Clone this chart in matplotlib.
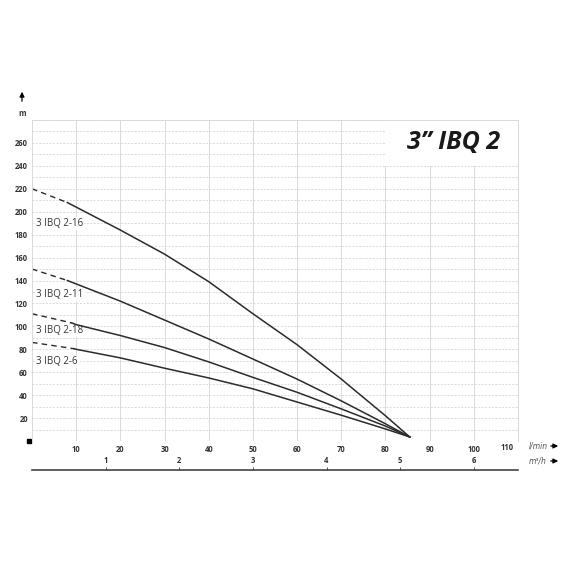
import matplotlib.pyplot as plt
import matplotlib.patches as mpatches
import numpy as np

plt.rcParams['font.family'] = ['Open Sans', 'DejaVu Sans']

# pump curves: flow (l/min) vs head (m); first segment is the dashed start
flow_216 = [0, 8, 10, 20, 30, 40, 50, 60, 70, 80, 85.5]
head_216 = [220, 208, 204, 184, 163, 139, 111, 84, 54, 22, 3.5]

flow_211 = [0, 8, 10, 20, 30, 40, 50, 60, 70, 80, 85.5]
head_211 = [150, 140, 137, 122, 105.5, 89, 71.5, 54, 35, 15, 3.5]

flow_218 = [0, 9, 10, 20, 30, 40, 50, 60, 70, 80, 85.5]
head_218 = [111, 103, 101.5, 92, 81.5, 69, 55.5, 42.5, 28, 13, 3.5]

flow_26 = [0, 9.5, 10, 20, 30, 40, 50, 60, 70, 80, 85.5]
head_26 = [86, 80.5, 80, 72.5, 63.5, 55, 45.5, 34, 22.5, 10.5, 3.5]

curves = [
    ('3 IBQ 2-16', flow_216, head_216, 190),
    ('3 IBQ 2-11', flow_211, head_211, 128),
    ('3 IBQ 2-18', flow_218, head_218, 96),
    ('3 IBQ 2-6', flow_26, head_26, 69.5),
]

x_ticks = [10, 20, 30, 40, 50, 60, 70, 80, 90, 100]
y_ticks = [20, 40, 60, 80, 100, 120, 140, 160, 180, 200, 220, 240, 260]
m3h_ticks = [1, 2, 3, 4, 5, 6]

W, H = 570, 570
fig = plt.figure(figsize=(W / 100, H / 100), dpi=100)
L, R, B, T = 32, 518, 441, 120
ax = fig.add_axes([L / W, 1 - B / H, (R - L) / W, (B - T) / H])
ax.set_xlim(0, 110)
ax.set_ylim(0, 280)

grid_c = '#dadada'
for x in range(10, 110, 10):
    ax.axvline(x, color=grid_c, lw=0.7, zorder=0.5)
for y in range(10, 290, 10):
    ax.axhline(y, color=grid_c, lw=0.7, ls=(0, (2, 1.5)), zorder=0.5)
ax.axhline(0, color=grid_c, lw=0.7, ls=(0, (1.5, 1.5)), zorder=0.5)
for s in ['left', 'top', 'right']:
    ax.spines[s].set_color(grid_c)
    ax.spines[s].set_linewidth(0.7)
ax.spines['bottom'].set_visible(False)

ax.set_xticks(x_ticks)
ax.set_yticks(y_ticks)
ax.tick_params(length=0, labelsize=5.5, colors='#333333', pad=3)
for lab in ax.get_xticklabels() + ax.get_yticklabels():
    lab.set_fontweight('bold')
ax.text(107.5, -1.5, '110', ha='center', va='top', fontsize=5.5,
        fontweight='bold', color='#333333', transform=ax.transData)
ax.plot([-0.7], [0], 's', color='black', ms=3, clip_on=False)

# title box
ax.add_patch(mpatches.Rectangle((80, 240), 30, 40, facecolor='white',
                                edgecolor='none', zorder=1))
ax.text(95.5, 260, '3\u201d IBQ 2', ha='center', va='center', fontsize=18,
        fontweight='bold', fontstyle='italic', color='#1a1a1a', zorder=3)

line_c = '#2b2b2b'
for name, fl, hd, ly in curves:
    ax.plot(fl[:2], hd[:2], color=line_c, lw=1.0, ls=(0, (4, 3)), zorder=2)
    ax.plot(fl[1:], hd[1:], color=line_c, lw=1.1, zorder=2)
    ax.text(1.0, ly, name, fontsize=7, color='#333333', va='center', zorder=1.5,
            bbox=dict(facecolor='white', edgecolor='none', pad=0.6))

# m3/h axis
ax2 = fig.add_axes([L / W, 1 - 470 / H, (R - L) / W, 0.0001])
ax2.set_xlim(0, 110)
for s in ['left', 'right', 'bottom']:
    ax2.spines[s].set_visible(False)
ax2.spines['top'].set_color('#444444')
ax2.spines['top'].set_linewidth(1.2)
ax2.set_yticks([])
ax2.xaxis.set_ticks_position('top')
ax2.set_xticks([v * 1000 / 60 for v in m3h_ticks])
ax2.set_xticklabels([str(v) for v in m3h_ticks])
ax2.tick_params(axis='x', direction='out', length=2.5, width=0.6,
                colors='#333333', labelsize=5.5, pad=1)
for lab in ax2.get_xticklabels():
    lab.set_fontweight('bold')

# unit labels with arrows
fig.text(529 / W, 1 - 446 / H, 'l/min', fontsize=5.5, style='italic',
         family='DejaVu Sans', color='#555555', va='center')
fig.text(529 / W, 1 - 461 / H, 'm\u00b3/h', fontsize=5.5, style='italic',
         family='DejaVu Sans', color='#555555', va='center')
for yy in (446, 461):
    fig.patches.append(mpatches.FancyArrowPatch(
        (548 / W, 1 - yy / H), (561 / W, 1 - yy / H), transform=fig.transFigure,
        arrowstyle='-|>', mutation_scale=7, color='black', lw=0.9))

fig.patches.append(mpatches.FancyArrowPatch(
    (22 / W, 1 - 104 / H), (22 / W, 1 - 89 / H), transform=fig.transFigure,
    arrowstyle='-|>', mutation_scale=7, color='black', lw=0.9))
fig.text(22 / W, 1 - 113 / H, 'm', fontsize=5.5, fontweight='bold',
         color='#333333', ha='center', va='center')

fig.savefig('out.png', dpi=100)
